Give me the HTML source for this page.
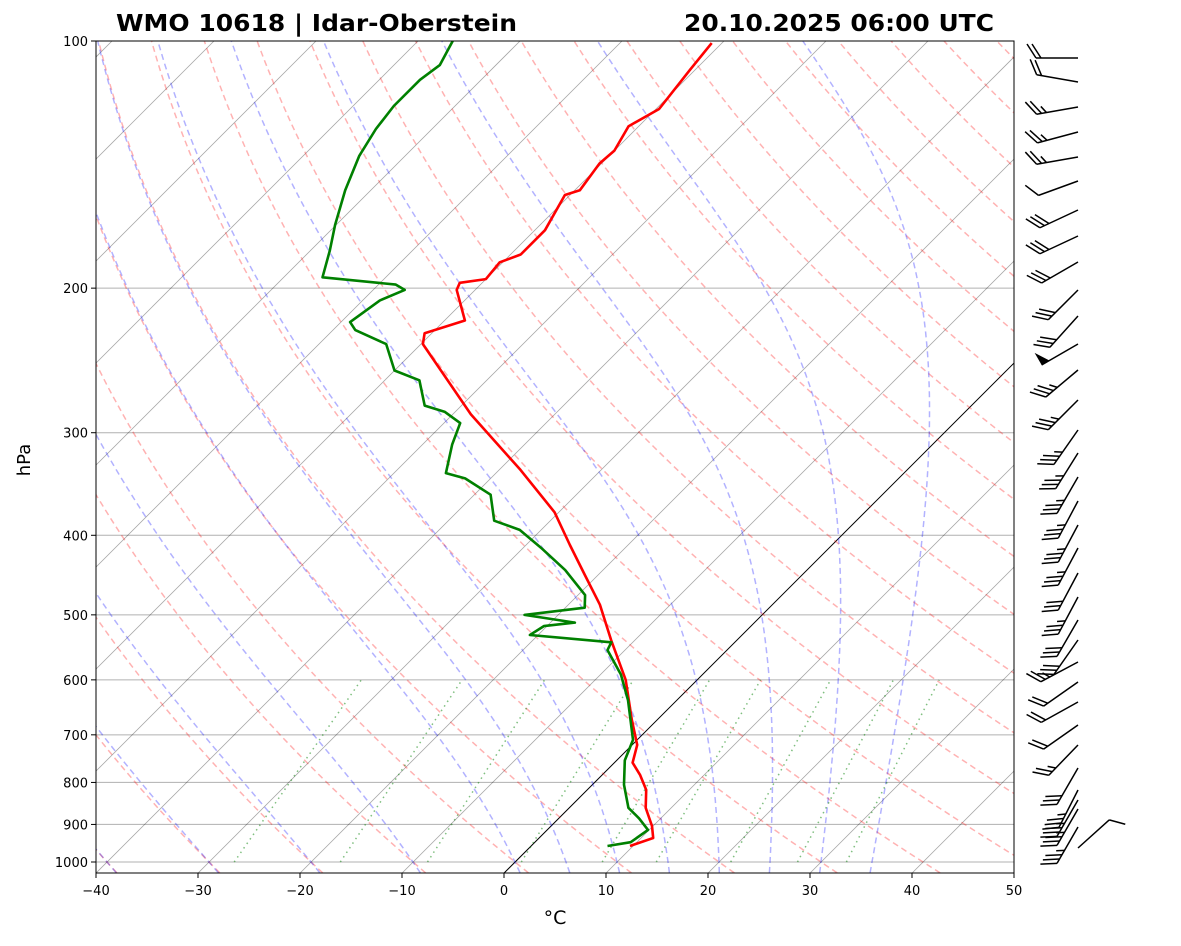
<!DOCTYPE html>
<html><head><meta charset="utf-8"><style>
html,body{margin:0;padding:0;background:#fff;}
svg text{font-family:"DejaVu Sans","Liberation Sans",sans-serif;}
</style></head><body>
<svg id="c" width="1181" height="941" xmlns="http://www.w3.org/2000/svg">
<defs><clipPath id="clip"><rect x="96" y="41" width="918" height="832"/></clipPath></defs>
<g id="bg" clip-path="url(#clip)"></g>
<g id="prof" clip-path="url(#clip)"></g>
<rect x="96" y="41" width="918" height="832" fill="none" stroke="#000" stroke-width="1"/>
<g id="axes"></g>
<g id="barbs"></g>
<text x="116" y="31" font-size="23" font-weight="bold" textLength="401" lengthAdjust="spacingAndGlyphs">WMO 10618 | Idar-Oberstein</text>
<text x="684" y="31" font-size="23" font-weight="bold" textLength="310" lengthAdjust="spacingAndGlyphs">20.10.2025 06:00 UTC</text>
<text x="30" y="460" font-size="18" text-anchor="middle" transform="rotate(-90 30 460)">hPa</text>
<text x="555" y="924" font-size="19" text-anchor="middle">°C</text>
</svg>
<script>
const tempP=[956,935,904,859,817,783,757,720,671,600,537,486,447,411,375,333,285,234,227,219,201,197,195,186,182,170,154,152,141,136,127,121,108.5,100.6];
const tempT=[9.7,11.2,9.9,7.5,5.8,3.7,1.8,0.5,-2.5,-7,-12.3,-16.9,-21.3,-25.7,-30.4,-37.9,-48.2,-59.8,-60.7,-58,-61.8,-62.2,-60,-60.3,-59,-59,-60.5,-59.5,-60.2,-60,-61,-59.7,-60.5,-61];
const dewP=[956,946,914,885,859,805,752,710,635,591,552,540,529,516,511,500,490,473,441,414,394,384,357,341,336,310,292,283,278,259,252,234,225,220,207,201,198,194,180,167.5,152,138,128,120,111.5,107,100];
const dewT=[7.5,9.4,9.9,7.9,5.8,3.1,0.8,-0.4,-4.8,-8,-11.7,-12.1,-20.8,-20.3,-17.6,-23.3,-18.1,-19.3,-23.7,-28.3,-32.1,-35.5,-38.4,-42.5,-44.9,-47.1,-48.4,-51,-53.6,-56.6,-60,-63.4,-67.8,-69.1,-68.3,-66.9,-68.3,-76.2,-78.1,-80.1,-82.5,-84.5,-85.5,-86,-86,-85.5,-86.6];
const barbY=[58,82,107,132,157,181,210,236,262,290,316,344,370,400,430,453,477,501,525,548,573,597,620,640,662,682,702,725,745,768,790,800,809,827,848];
const barbDir=[270,280,260,255,260,250,245,245,240,225,222,240,230,225,215,212,210,208,208,208,208,208,210,215,242,235,241,235,224,210,207,210,210,210,48];
const barbSpd=[20,20,25,25,25,10,30,30,30,30,30,50,35,35,35,35,35,35,35,35,30,35,30,30,25,20,20,20,25,30,35,35,35,35,10];
const xTicks=[-40,-30,-20,-10,0,10,20,30,40,50];
const yTicks=[100,200,300,400,500,600,700,800,900,1000];

const NS='http://www.w3.org/2000/svg';
function Y(p){return 41+821*Math.log10(p/100);}
function X(t,p){return 96+(t+40)*10.2+(873-Y(p));}
function mk(tag,attrs,parent){const e=document.createElementNS(NS,tag);for(const k in attrs)e.setAttribute(k,attrs[k]);parent.appendChild(e);return e;}
function pathFrom(ts,ps){let d='';for(let i=0;i<ts.length;i++)d+=(i?'L':'M')+X(ts[i],ps[i]).toFixed(1)+','+Y(ps[i]).toFixed(1);return d;}
const bg=document.getElementById('bg'),prof=document.getElementById('prof'),axes=document.getElementById('axes'),barbs=document.getElementById('barbs');
const PS=[];for(let i=0;i<=80;i++)PS.push(1031*Math.pow(100/1031,i/80));
for(const p of yTicks){const l=mk('line',{x1:96,x2:1014,y1:Y(p),y2:Y(p),stroke:'#b0b0b0','stroke-width':1},bg);

}
for(let t=-140;t<=50;t+=10){const l=mk('line',{x1:X(t,1031),y1:873,x2:X(t,100),y2:41,stroke:'#000','stroke-opacity':t===0?1:0.35,'stroke-width':t===0?1:0.8},bg);

}
for(let t0=-40;t0<=200;t0+=10){const ts=PS.map(p=>(t0+273.15)*Math.pow(p/1000,0.2857)-273.15);
const e=mk('path',{d:pathFrom(ts,PS),fill:'none',stroke:'#ff0000','stroke-opacity':0.3,'stroke-width':1.5,'stroke-dasharray':'6,4'},bg);

}
function es(tc){return 6.112*Math.exp(17.67*tc/(tc+243.5));}
function dTdp(T,p){const tc=T-273.15,e=es(tc),rs=0.622*e/(p-e),Rd=287.04,Lv=2.501e6,Cp=1005.7;
return (Rd*T+Lv*rs)/(p*(Cp+Lv*Lv*rs*0.622/(Rd*T*T)));}
function moist(t0,ps){const out=[];
for(const target of ps){let T1=t0+273.15,p1=1000;const n=60,h=(target-p1)/n;
for(let i=0;i<n;i++){const k1=dTdp(T1,p1),k2=dTdp(T1+h*k1/2,p1+h/2),k3=dTdp(T1+h*k2/2,p1+h/2),k4=dTdp(T1+h*k3,p1+h);T1+=h*(k1+2*k2+2*k3+k4)/6;p1+=h;}
out.push(T1-273.15);}return out;}
const moistT0=[-50,-40,-30,-20,-10,0,5,10,15,20,25,30,35];
for(const t0 of moistT0){const ts=moist(t0,PS);
const e=mk('path',{d:pathFrom(ts,PS),fill:'none',stroke:'#0000ff','stroke-opacity':0.3,'stroke-width':1.5,'stroke-dasharray':'6,4'},bg);

}
const mixW=[0.0004,0.001,0.002,0.004,0.007,0.01,0.016,0.024,0.032];
const MP=[1000,600];
for(const w of mixW){const ts=MP.map(p=>{const e=w*p/(0.622+w),l=Math.log(e/6.112);return 243.5*l/(17.67-l);});
const e=mk('path',{d:pathFrom(ts,MP),fill:'none',stroke:'#008000','stroke-opacity':0.5,'stroke-width':1.5,'stroke-dasharray':'1.5,4'},bg);

}
const tp=mk('path',{d:pathFrom(tempT,tempP),fill:'none',stroke:'#ff0000','stroke-width':2.6,'stroke-linejoin':'round'},prof);


const dp=mk('path',{d:pathFrom(dewT,dewP),fill:'none',stroke:'#008000','stroke-width':2.6,'stroke-linejoin':'round'},prof);


for(const t of xTicks){const x=96+(t+40)*10.2;
mk('line',{x1:x,x2:x,y1:873,y2:878,stroke:'#000'},axes);
const tx=mk('text',{x:x,y:895,'font-size':13,'text-anchor':'middle'},axes);tx.textContent=(t<0?'\u2212'+(-t):t);

}
for(const p of yTicks){const y=Y(p);
mk('line',{x1:91,x2:96,y1:y,y2:y,stroke:'#000'},axes);
const tx=mk('text',{x:88,y:y+5,'font-size':13,'text-anchor':'end'},axes);tx.textContent=p;

}
const L=42;
for(let i=0;i<barbY.length;i++){const bx=1078,by=barbY[i],d=barbDir[i]*Math.PI/180;
const ux=Math.sin(d),uy=-Math.cos(d);const px=-uy,py=ux;
const g=mk('g',{stroke:'#000','stroke-width':1.5,fill:'#000'},barbs);


const tx=bx+ux*L,ty=by+uy*L;
mk('line',{x1:bx,y1:by,x2:tx,y2:ty},g);
let s=Math.round(barbSpd[i]/5)*5,pos=0;const fp=14,fu=9,sp=5;
while(s>=50){const ax=tx-ux*pos,ay=ty-uy*pos,bx2=tx-ux*(pos+9),by2=ty-uy*(pos+9);
mk('polygon',{points:`${ax},${ay} ${ax+px*fp},${ay+py*fp} ${bx2},${by2}`,stroke:'none'},g);pos+=11;s-=50;}
while(s>=10){const ax=tx-ux*pos,ay=ty-uy*pos;mk('line',{x1:ax,y1:ay,x2:ax+px*fp+ux*fu,y2:ay+py*fp+uy*fu},g);pos+=sp;s-=10;}
if(s>=5){if(pos===0)pos=sp;const ax=tx-ux*pos,ay=ty-uy*pos;mk('line',{x1:ax,y1:ay,x2:ax+px*fp/2+ux*fu/2,y2:ay+py*fp/2+uy*fu/2},g);}
}
</script>
</body></html>
